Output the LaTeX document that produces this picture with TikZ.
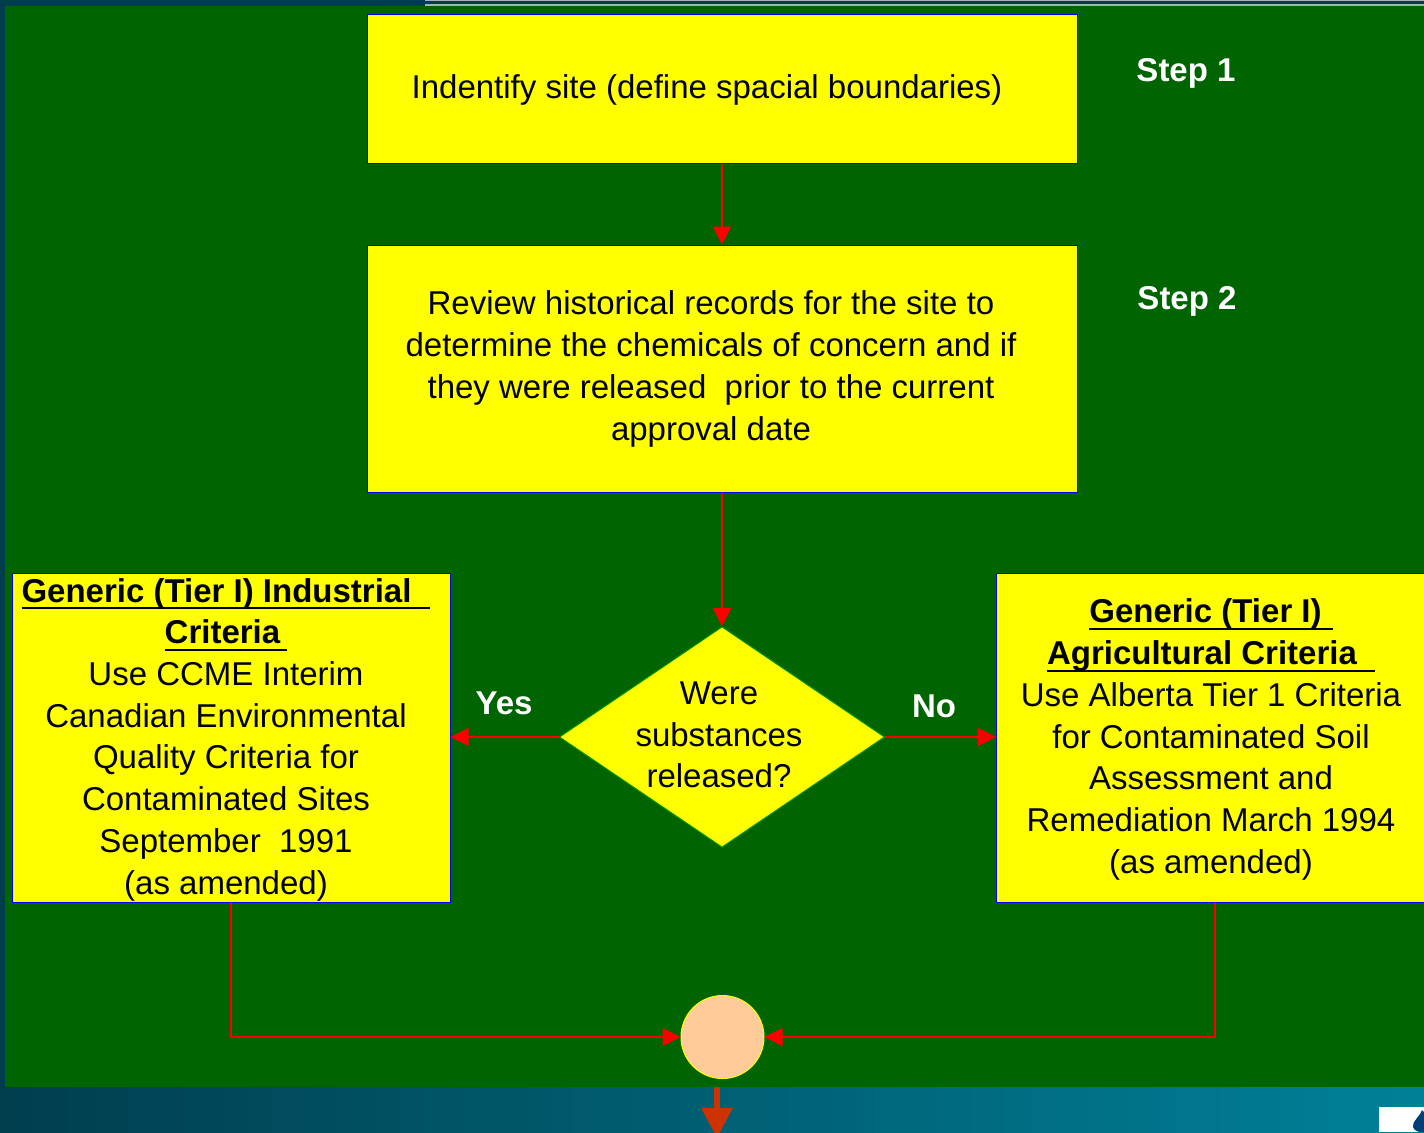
\documentclass[tikz,border=0pt]{standalone}
\usepackage{fontspec}
\setmainfont{Liberation Sans}
\usetikzlibrary{arrows.meta,shapes.geometric}
\definecolor{bggreen}{RGB}{0,100,0}
\definecolor{tealdark}{RGB}{0,62,78}
\definecolor{teallight}{RGB}{0,128,152}
\definecolor{peach}{RGB}{255,204,153}
\definecolor{bigarrow}{RGB}{204,51,0}
\definecolor{stripe}{RGB}{165,178,185}
\definecolor{dropblue}{RGB}{0,64,120}
\definecolor{edgegreen}{RGB}{0,150,0}
\definecolor{boxyellow}{RGB}{255,255,0}
\definecolor{linered}{RGB}{255,0,0}
\definecolor{boxblue}{RGB}{0,0,255}
\newsavebox\ulbox
\newcommand\ulx[2]{\sbox\ulbox{#1\hspace*{#2}}\rlap{\raisebox{-3.5pt}{\rule{\wd\ulbox}{1pt}}}\usebox\ulbox}
\tikzset{
  ybox/.style={rectangle, fill=boxyellow, draw=boxblue, line width=0.5pt, inner sep=0pt},
  body/.style={font=\fontsize{16.5}{20.85}\selectfont, align=center, inner sep=0pt, text=black},
  whitelbl/.style={font=\fontsize{16.5}{20.85}\selectfont\bfseries, text=white, inner sep=0pt, anchor=base},
  conn/.style={draw=linered, line width=0.75pt, -{Triangle[width=9pt,length=9pt]}},
  bigconn/.style={draw=bigarrow, line width=3pt, -{Triangle[width=15pt,length=15pt]}}
}
\begin{document}
\begin{tikzpicture}[x=0.5pt,y=-0.5pt]
\useasboundingbox (0,0) rectangle (1424,1132);
\clip (0,0) rectangle (1424,1132);
% background
\fill[tealdark] (0,0) rectangle (1424,1132);
\shade[left color=tealdark, right color=teallight] (0,1086) rectangle (1424,1132);
\fill[stripe] (425,0) rectangle (1424,1.3);
\fill[stripe] (425,4) rectangle (1424,5.6);
\fill[bggreen] (5.4,6) rectangle (1424,1086.7);
\fill[white] (1379,1107) rectangle (1424,1132);
\fill[dropblue] (1422,1110) .. controls (1419,1118) and (1412,1121) .. (1413,1127)
  .. controls (1414,1131) and (1420,1133) .. (1424,1132) -- (1424,1112) -- cycle;

% boxes
\node[ybox, minimum width=355pt, minimum height=74.5pt] (s1) at (722,88.5) {};
\node[ybox, minimum width=355pt, minimum height=123.5pt] (s2) at (722,368.5) {};
\node[diamond, fill=boxyellow, draw=edgegreen, line width=0.5pt, inner sep=0pt,
      minimum width=162.7pt, minimum height=110.3pt] (dec) at (722,737) {};
\node[ybox, minimum width=219pt, minimum height=164.25pt] (yesbox) at (231,737.75) {};
\node[ybox, minimum width=218.5pt, minimum height=164.25pt] (nobox) at (1215,737.75) {};
\node[circle, fill=peach, draw=boxyellow, line width=0.5pt, inner sep=0pt, minimum size=41.5pt] (merge) at (722.5,1037) {};

% texts
\node[body] (t1) at (707,89.5) {Indentify site (define spacial boundaries)};
\node[body] (t2) at (711,369) {Review historical records for the site to\\determine the chemicals of concern and if\\they were released\ \ prior to the current\\approval date};
\node[body] (t3) at (719,735) {Were\\substances\\released?};
\node[body] (t4) at (226,739.5) {\ulx{\bfseries Generic (Tier I) Industrial}{9.5pt}\\\ulx{\bfseries Criteria}{3.5pt}\\Use CCME Interim\\Canadian Environmental\\Quality Criteria for\\Contaminated Sites\\September\ \ 1991\\(as amended)};
\node[body] (t5) at (1211,739.5) {\ulx{\bfseries Generic (Tier I)}{5.5pt}\\\ulx{\bfseries Agricultural Criteria}{9pt}\\Use Alberta Tier 1 Criteria\\for Contaminated Soil\\Assessment and\\Remediation March 1994\\(as amended)};
\node[whitelbl] (st1) at (1186,81) {Step 1};
\node[whitelbl] (st2) at (1187,309.5) {Step 2};
\node[whitelbl] (yes) at (504,714) {Yes};
\node[whitelbl] (no) at (934,717) {No};

% connectors
\draw[conn] (s1.south) -- (s2.north);
\draw[conn] (s2.south) -- (dec.north);
\draw[conn] (dec.west) -- (dec.west -| yesbox.east);
\draw[conn] (dec.east) -- (dec.east -| nobox.west);
\draw[conn] (yesbox.south) |- (merge.west);
\draw[conn] (nobox.south) |- (merge.east);
\coordinate (outtop) at (717,1087);
\coordinate (outend) at (717,1138);
\draw[bigconn] (outtop) -- (outend);
\end{tikzpicture}
\end{document}
